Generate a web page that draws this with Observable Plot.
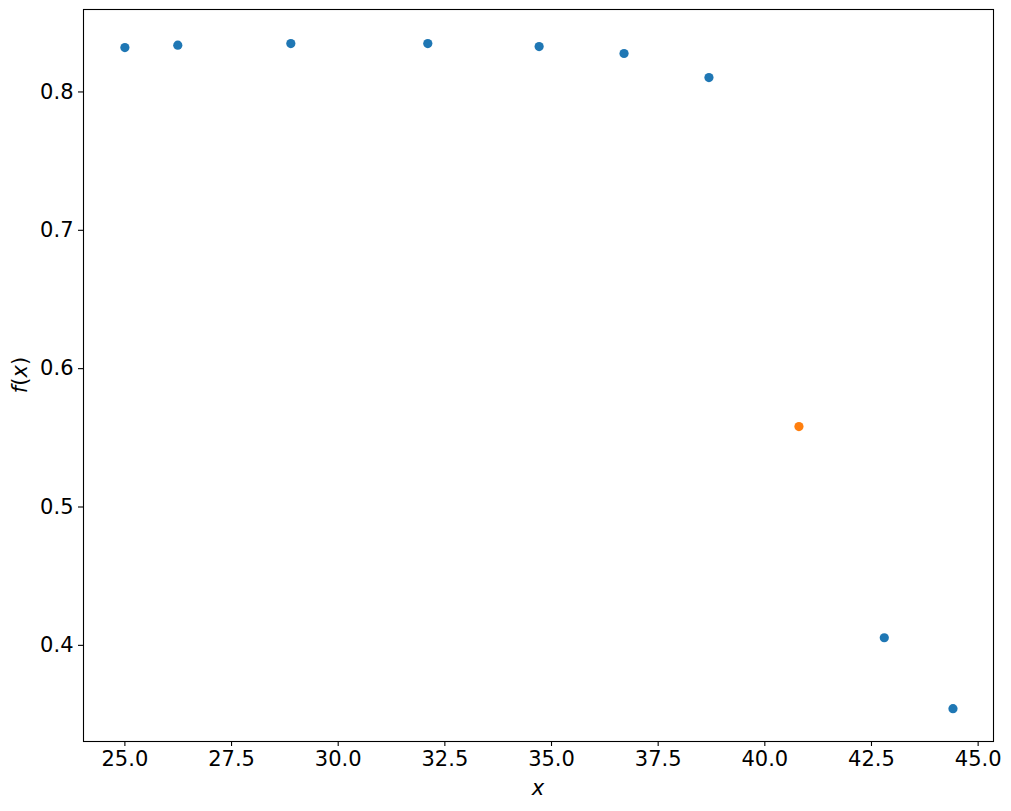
<!DOCTYPE html>
<html>
<head>
<meta charset="utf-8">
<script src="https://cdn.jsdelivr.net/npm/d3@7"></script>
<script src="https://cdn.jsdelivr.net/npm/@observablehq/plot@0.6"></script>
<style>
  html, body { margin: 0; padding: 0; background: #fff; }
  svg { display: block; }
</style>
</head>
<body>
<div id="chart"></div>
<script>
const xValues = [25.0, 26.24, 28.89, 32.10, 34.71, 36.70, 38.69, 40.80, 42.80, 44.41];
const yValues = [0.8321, 0.8338, 0.8350, 0.8350, 0.8328, 0.8278, 0.8104, 0.5581, 0.4055, 0.3542];
const pointColors = ["#1f77b4", "#1f77b4", "#1f77b4", "#1f77b4", "#1f77b4", "#1f77b4", "#1f77b4", "#ff7f0e", "#1f77b4", "#1f77b4"];
const xTicks = [25.0, 27.5, 30.0, 32.5, 35.0, 37.5, 40.0, 42.5, 45.0];
const yTicks = [0.4, 0.5, 0.6, 0.7, 0.8];

const data = xValues.map((x, i) => ({x, y: yValues[i], c: pointColors[i]}));

const plot = Plot.plot({
  width: 1011,
  height: 811,
  marginLeft: 83,
  marginRight: 18,
  marginTop: 9,
  marginBottom: 70,
  style: {fontFamily: "DejaVu Sans", fontSize: "21px", color: "black", background: "white"},
  x: {domain: [24.03, 45.36]},
  y: {domain: [0.3305, 0.8596]},
  marks: [
    Plot.frame({stroke: "black", strokeWidth: 1.1}),
    Plot.dot(data, {x: "x", y: "y", fill: "c", r: 4.6}),
    Plot.axisX({ticks: xTicks, tickFormat: d => d.toFixed(1), tickSize: 5, tickPadding: 5, label: null, strokeWidth: 1.1}),
    Plot.axisY({ticks: yTicks, tickFormat: d => d.toFixed(1), tickSize: 5, tickPadding: 5, label: null, strokeWidth: 1.1})
  ]
});

const svg = d3.select(plot);
svg.append("text")
  .attr("x", 538).attr("y", 795)
  .attr("text-anchor", "middle")
  .attr("font-family", "DejaVu Sans")
  .attr("font-size", "21px")
  .attr("font-style", "italic")
  .attr("fill", "black")
  .text("x");

const yl = svg.append("text")
  .attr("transform", "translate(27,375) rotate(-90)")
  .attr("text-anchor", "middle")
  .attr("font-family", "DejaVu Sans")
  .attr("font-size", "21px")
  .attr("fill", "black");
yl.append("tspan").attr("font-style", "italic").text("f");
yl.append("tspan").text("(");
yl.append("tspan").attr("font-style", "italic").text("x");
yl.append("tspan").text(")");

document.getElementById("chart").appendChild(plot);
</script>
</body>
</html>
